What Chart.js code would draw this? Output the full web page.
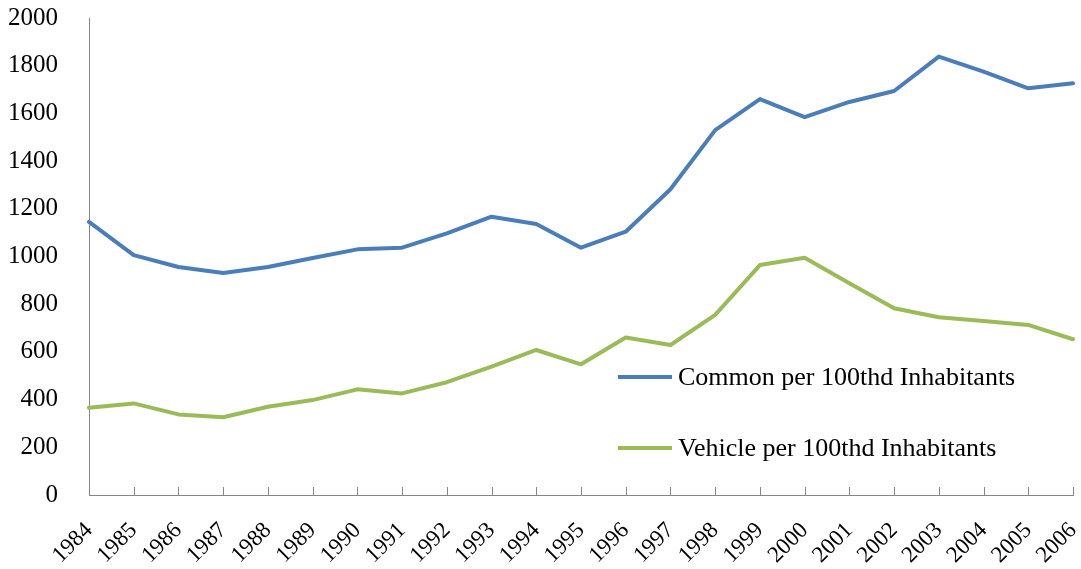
<!DOCTYPE html>
<html>
<head>
<meta charset="utf-8">
<script src="https://cdn.jsdelivr.net/npm/chart.js@4"></script>
<style>
  html, body { margin: 0; padding: 0; background: #fff; }
  #wrap { width: 1081px; height: 569px; }
</style>
</head>
<body>
<div id="wrap"><canvas id="chart" width="1081" height="569"></canvas></div>
<script>
const years = ['1984','1985','1986','1987','1988','1989','1990','1991','1992','1993','1994','1995',
               '1996','1997','1998','1999','2000','2001','2002','2003','2004','2005','2006'];
const commonPer100thd = [1145, 1006, 956, 931, 956, 994, 1030, 1037, 1097, 1167, 1136, 1037,
                         1104, 1282, 1530, 1660, 1584, 1648, 1694, 1838, 1775, 1705, 1726];
const vehiclePer100thd = [366, 384, 338, 326, 370, 398, 443, 426, 473, 538, 608, 548,
                          660, 629, 755, 964, 995, 888, 783, 745, 730, 713, 653];
const seriesNames = ['Common per 100thd Inhabitants', 'Vehicle per 100thd Inhabitants'];
const seriesColors = ['#4a7ebb', '#9bbb59'];

const FONT = '"Liberation Serif", "Times New Roman", serif';
const AXIS_COLOR = '#868686';

// ticks go inward on the x axis, and the legend sits inside the plot
const overlay = {
    id: 'overlay',
    afterDraw(chart) {
        const { ctx, chartArea, scales: { x } } = chart;
        ctx.save();
        ctx.strokeStyle = AXIS_COLOR;
        ctx.lineWidth = 1;
        x.ticks.forEach((t, i) => {
            if (i === 0) return;
            const px = Math.round(x.getPixelForTick(i)) + 0.5;
            ctx.beginPath();
            ctx.moveTo(px, chartArea.bottom);
            ctx.lineTo(px, chartArea.bottom - 8);
            ctx.stroke();
        });

        const legendY = [377, 448];
        ctx.font = '26px ' + FONT;
        ctx.textBaseline = 'middle';
        ctx.fillStyle = '#000';
        seriesNames.forEach((name, i) => {
            ctx.strokeStyle = seriesColors[i];
            ctx.lineWidth = 4;
            ctx.beginPath();
            ctx.moveTo(618, legendY[i]);
            ctx.lineTo(672, legendY[i]);
            ctx.stroke();
            ctx.fillText(name, 678, legendY[i] + 1);
        });
        ctx.restore();
    }
};

new Chart(document.getElementById('chart'), {
    type: 'line',
    data: {
        labels: years,
        datasets: [
            { label: seriesNames[0], data: commonPer100thd, borderColor: seriesColors[0] },
            { label: seriesNames[1], data: vehiclePer100thd, borderColor: seriesColors[1] }
        ]
    },
    options: {
        responsive: false,
        animation: false,
        layout: { padding: { top: 18, right: 8, left: 0, bottom: 0 } },
        elements: {
            line: { borderWidth: 4, tension: 0, borderJoinStyle: 'round', borderCapStyle: 'round' },
            point: { radius: 0 }
        },
        plugins: {
            legend: { display: false },
            tooltip: { enabled: false }
        },
        scales: {
            x: {
                offset: false,
                grid: { display: false },
                border: { display: true, color: AXIS_COLOR, width: 1 },
                ticks: {
                    color: '#000',
                    font: { family: FONT, size: 23 },
                    minRotation: 45,
                    maxRotation: 45,
                    padding: 14,
                    autoSkip: false
                },
                afterFit(scale) {
                    scale.height = 74;
                    scale.paddingLeft = 0;
                    scale.paddingRight = 0;
                }
            },
            y: {
                min: 0,
                max: 2000,
                grid: { display: false },
                border: { display: true, color: AXIS_COLOR, width: 1 },
                ticks: {
                    stepSize: 200,
                    color: '#000',
                    font: { family: FONT, size: 25 },
                    padding: 23,
                    callback: value => String(value)
                },
                afterFit(scale) {
                    scale.width = 89;
                    scale.paddingTop = 0;
                    scale.paddingBottom = 0;
                }
            }
        }
    },
    plugins: [overlay]
});
</script>
</body>
</html>
